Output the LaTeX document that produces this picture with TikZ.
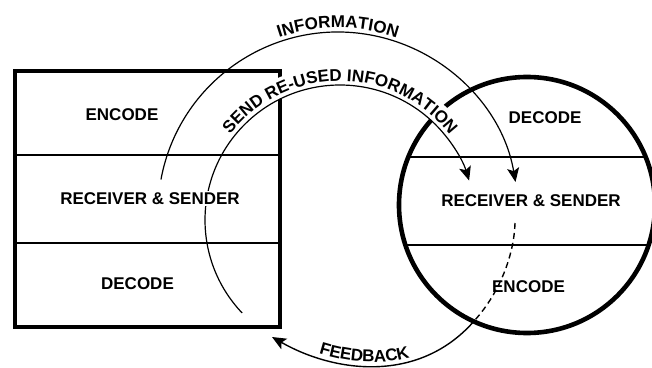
\documentclass[tikz,border=0pt]{standalone}
\usepackage{fontspec}
\setmainfont{Liberation Sans}
\usetikzlibrary{arrows.meta,decorations.text}
\newcommand\arcfont{\fontsize{17}{17}\selectfont\bfseries}
\begin{document}
\begin{tikzpicture}[x=1pt,y=1pt,
  heavyline/.style={line width=4.2pt},
  thinrule/.style={line width=2pt},
  flowline/.style={line width=1.2pt},
  flowtip/.style={-{Stealth[length=14pt,width=12pt,inset=3pt]}},
  boxtext/.style={font=\arcfont, inner sep=0pt},
]
\useasboundingbox (0,0) rectangle (652,367);

% the sender block and the receiver disc
\node[heavyline, draw, rectangle, minimum width=265, minimum height=256, inner sep=0pt, outer sep=0pt] (sender) at (147.5,168) {};
\node[line width=4.6pt, draw, circle, minimum size=256, inner sep=0pt, outer sep=0pt] (receiver) at (527,162) {};

% horizontal rules splitting each part into three layers
\draw[thinrule] (sender.west |- 0,212) -- (sender.east |- 0,212);
\draw[thinrule] (sender.west |- 0,124) -- (sender.east |- 0,124);
\draw[line width=2.4pt] (408.3,210) -- (645.7,210);
\draw[line width=2.4pt] (405.4,122) -- (648.6,122);

% centres of the two information arcs
\coordinate (info-hub) at (338,155);
\coordinate (reuse-hub) at (340,147);

% white band that clears the lines under the re-used information label
\draw[white, line width=20pt] ([shift={(148:145)}]reuse-hub) arc[start angle=148, end angle=33, radius=145];

% information arcs
\draw[flowline, flowtip] ([shift={(169.6:180)}]info-hub) arc[start angle=169.6, end angle=9.6, radius=180];
\draw[flowline, flowtip] ([shift={(223.5:135)}]reuse-hub) arc[start angle=223.5, end angle=17, radius=135];

% feedback path
\coordinate (fb-start) at (515,144);
\coordinate (fb-cross) at (475,47);
\coordinate (fb-end) at (272,30);
\draw[line width=1.4pt, dash pattern=on 6pt off 4pt] (fb-start) .. controls (514,112) and (500,75) .. (fb-cross);
\draw[line width=1.4pt, flowtip] (fb-cross) .. controls (420,-17) and (335,-6) .. (fb-end);

% curved labels
\path[decorate, decoration={text along path, text={|\arcfont|INFORMATION}, text align=center}]
  ([shift={(150:184)}]info-hub) arc[start angle=150, end angle=30, radius=184];
\path[decorate, decoration={text along path, text={|\arcfont|SEND RE-USED INFORMATION}, text align=center}]
  ([shift={(170:139)}]reuse-hub) arc[start angle=170, end angle=10, radius=139];
\path[decorate, decoration={text along path, raise=4pt, text={|\arcfont|FEEDBACK}, text align={left indent=50pt}}]
  (fb-end) .. controls (335,-6) and (420,-17) .. (fb-cross);

% layer labels
\node[boxtext] (enc-l) at (122,252.5) {ENCODE};
\node[boxtext, fill=white, inner sep=1.5pt] (rs-l) at (150,168.5) {RECEIVER \& SENDER};
\node[boxtext] (dec-l) at (137.5,83.5) {DECODE};
\node[boxtext] (dec-r) at (545,249.5) {DECODE};
\node[boxtext] (rs-r) at (531,166) {RECEIVER \& SENDER};
\node[boxtext] (enc-r) at (528.5,80.5) {ENCODE};
\end{tikzpicture}
\end{document}
